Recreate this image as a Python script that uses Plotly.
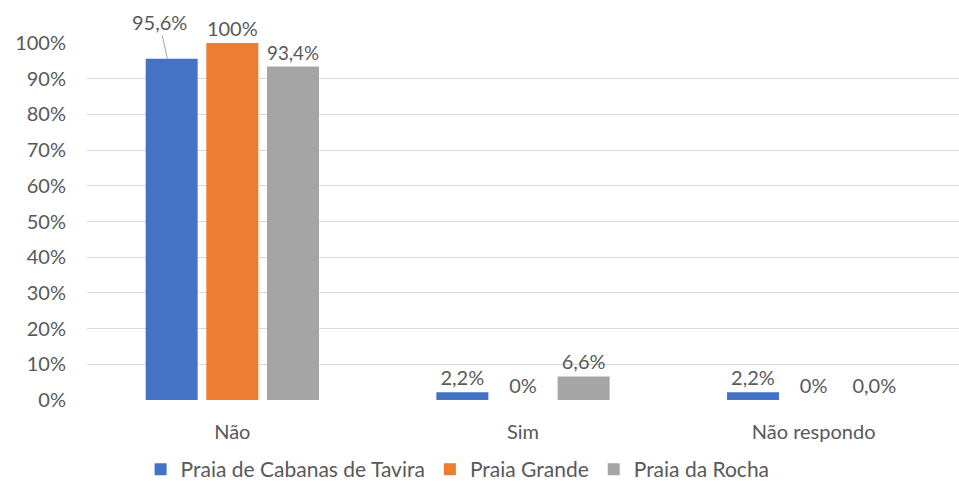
import plotly.graph_objects as go

categories = ["Não", "Sim", "Não respondo"]
series_names = ["Praia de Cabanas de Tavira", "Praia Grande", "Praia da Rocha"]
values = [
    [0.956, 0.022, 0.022],
    [1.000, 0.000, 0.000],
    [0.934, 0.066, 0.000],
]
labels = [
    ["95,6%", "2,2%", "2,2%"],
    ["100%", "0%", "0%"],
    ["93,4%", "6,6%", "0,0%"],
]
colors = ["#4472C4", "#ED7D31", "#A5A5A5"]
y_ticks = [i / 10 for i in range(11)]

FONT = "Lato"
TXT = "#595959"

fig = go.Figure()
for i, name in enumerate(series_names):
    txt = list(labels[i])
    if i == 0:
        txt[0] = ""  # drawn as a callout annotation
    fig.add_trace(go.Bar(
        name=name, x=categories, y=values[i], marker_color=colors[i],
        marker_line_width=0,
        text=txt, textposition="outside", cliponaxis=False,
        textfont=dict(family=FONT, size=20, color=TXT),
    ))

# callout label for first bar
fig.add_annotation(
    x=categories[0], y=values[0][0], xref="x", yref="y",
    xshift=-65, text=labels[0][0], showarrow=True, arrowhead=0,
    arrowcolor="#A6A6A6", arrowwidth=1, ax=-8, ay=-37, standoff=0,
    font=dict(family=FONT, size=20, color=TXT),
)

fig.update_layout(
    width=959, height=484,
    margin=dict(l=87, r=0, t=43, b=84, autoexpand=False),
    paper_bgcolor="white", plot_bgcolor="white",
    barmode="group", bargap=0.374, bargroupgap=0.143,
    font=dict(family=FONT, size=20, color=TXT),
    showlegend=True,
    legend=dict(orientation="h", x=0.425, xanchor="center", y=-0.195, yanchor="middle",
                font=dict(family=FONT, size=21, color=TXT), traceorder="normal",
                entrywidthmode="pixels"),
)
fig.update_yaxes(range=[0, 1], tickvals=y_ticks, tickformat=".0%",
                 showgrid=True, gridcolor="#D9D9D9", gridwidth=1,
                 zeroline=False, showline=False, ticks="", automargin=False,
                 ticklabelstandoff=20, tickfont=dict(family=FONT, size=20, color=TXT))
fig.update_xaxes(showgrid=False, showline=False, ticks="", automargin=False,
                 ticklabelstandoff=18, tickfont=dict(family=FONT, size=20, color=TXT))

fig.write_html("out.html", config={"displayModeBar": False},
               post_script="document.body.style.margin='0';document.body.style.overflow='hidden';")
